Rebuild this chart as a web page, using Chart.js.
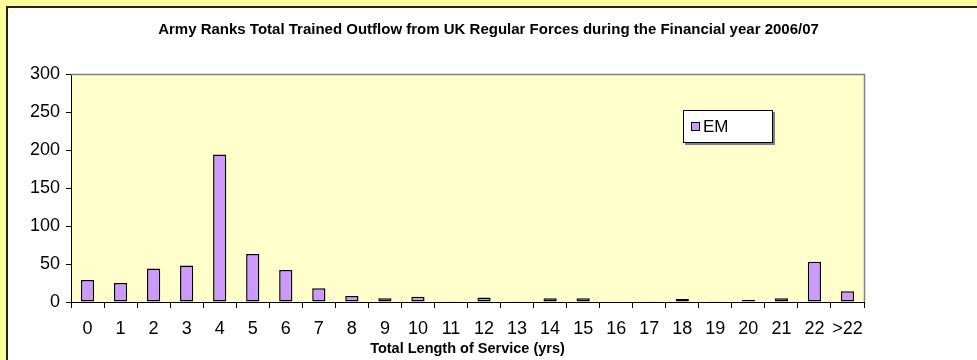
<!DOCTYPE html>
<html>
<head>
<meta charset="utf-8">
<script src="https://cdn.jsdelivr.net/npm/chart.js@4"></script>
<style>
  html, body { margin: 0; padding: 0; background: #FFFF99; overflow: hidden; }
  #wrap { width: 977px; height: 360px; }
</style>
</head>
<body>
<div id="wrap"><canvas id="c" width="977" height="360"></canvas></div>
<script>
// Years of service buckets and number of leavers in each
const serviceYears = ['0','1','2','3','4','5','6','7','8','9','10','11','12','13','14','15','16','17','18','19','20','21','22','>22'];
const emOutflow = [29, 25, 44, 48, 194, 63, 42, 18, 8, 5, 7, 1, 6, 1, 5, 5, 0, 1, 4, 1, 3, 5, 53, 14];
const yTicks = [0, 50, 100, 150, 200, 250, 300];
const chartTitle = 'Army Ranks Total Trained Outflow from UK Regular Forces during the Financial year 2006/07';
const xTitle = 'Total Length of Service (yrs)';
const seriesName = 'EM';

const FONT = 'Arial, "Liberation Sans", sans-serif';

// White panel with dark frame, pale plot background and grey plot edges
const framePlugin = {
  id: 'frame',
  beforeDraw(chart) {
    const ctx = chart.ctx;
    const a = chart.chartArea;
    ctx.save();
    ctx.fillStyle = '#FFFF99';
    ctx.fillRect(0, 0, chart.width, chart.height);
    ctx.fillStyle = '#222222';
    ctx.fillRect(6, 6, chart.width, chart.height);
    ctx.fillStyle = '#FFFFFF';
    ctx.fillRect(8, 8, chart.width, chart.height);
    ctx.fillStyle = '#FFFFCC';
    ctx.fillRect(a.left, a.top, a.right - a.left, a.bottom - a.top);
    ctx.restore();
  },
  afterDatasetsDraw(chart) {
    const ctx = chart.ctx;
    const a = chart.chartArea;
    ctx.save();
    ctx.strokeStyle = '#808080';
    ctx.lineWidth = 1.5;
    ctx.beginPath();
    ctx.moveTo(a.left, a.top + 0.5);
    ctx.lineTo(a.right + 0.5, a.top + 0.5);
    ctx.lineTo(a.right + 0.5, a.bottom);
    ctx.stroke();
    ctx.restore();
  }
};

// Boxed legend sitting inside the plot area
const boxLegend = {
  id: 'boxLegend',
  afterDraw(chart) {
    const ctx = chart.ctx;
    const ds = chart.data.datasets[0];
    const x = 683, y = 110, w = 90, h = 33;
    ctx.save();
    ctx.fillStyle = '#808080';
    ctx.fillRect(x + 2, y + 2, w, h);
    ctx.fillStyle = '#FFFFFF';
    ctx.fillRect(x, y, w, h);
    ctx.strokeStyle = '#000';
    ctx.lineWidth = 1;
    ctx.strokeRect(x + 0.5, y + 0.5, w - 1, h - 1);
    ctx.fillStyle = ds.backgroundColor;
    ctx.fillRect(x + 8, y + 12, 9, 9);
    ctx.strokeRect(x + 8.5, y + 12.5, 8, 8);
    ctx.fillStyle = '#000';
    ctx.font = '17px ' + FONT;
    ctx.textBaseline = 'middle';
    ctx.fillText(ds.label, x + 20, y + 17);
    ctx.restore();
  }
};

new Chart(document.getElementById('c'), {
  type: 'bar',
  data: {
    labels: serviceYears,
    datasets: [{
      label: seriesName,
      data: emOutflow,
      backgroundColor: '#CC99FF',
      borderColor: '#000000',
      borderWidth: 1.5,
      borderSkipped: false,
      categoryPercentage: 1,
      barPercentage: 0.4
    }]
  },
  options: {
    responsive: false,
    animation: false,
    devicePixelRatio: 1,
    layout: { padding: 0 },
    plugins: {
      legend: { display: false },
      tooltip: { enabled: false },
      title: {
        display: true,
        text: chartTitle,
        color: '#000',
        font: { family: FONT, size: 15, weight: 'bold' },
        padding: { top: 21, bottom: 35 }
      }
    },
    scales: {
      x: {
        grid: { display: true, drawOnChartArea: false, drawTicks: true, tickLength: 6, color: '#000', offset: true },
        border: { display: true, color: '#000', width: 1 },
        ticks: { color: '#000', font: { family: FONT, size: 18 }, padding: 10, maxRotation: 0, autoSkip: false },
        title: { display: true, text: xTitle, color: '#000', font: { family: FONT, size: 14.5, weight: 'bold' }, padding: { top: 0, bottom: 2 } },
        afterFit(s) { s.height = 58; }
      },
      y: {
        min: 0,
        max: 300,
        afterBuildTicks(s) { s.ticks = yTicks.map(v => ({ value: v })); },
        grid: { display: true, drawOnChartArea: false, drawTicks: true, tickLength: 5, color: '#000' },
        border: { display: true, color: '#000', width: 1 },
        ticks: { color: '#000', font: { family: FONT, size: 18 }, padding: 6 },
        afterFit(s) { s.width = 71; }
      },
      yRight: {
        position: 'right',
        display: true,
        grid: { display: false },
        border: { display: false },
        ticks: { display: false },
        afterFit(s) { s.width = 113; }
      }
    }
  },
  plugins: [framePlugin, boxLegend]
});
</script>
</body>
</html>
